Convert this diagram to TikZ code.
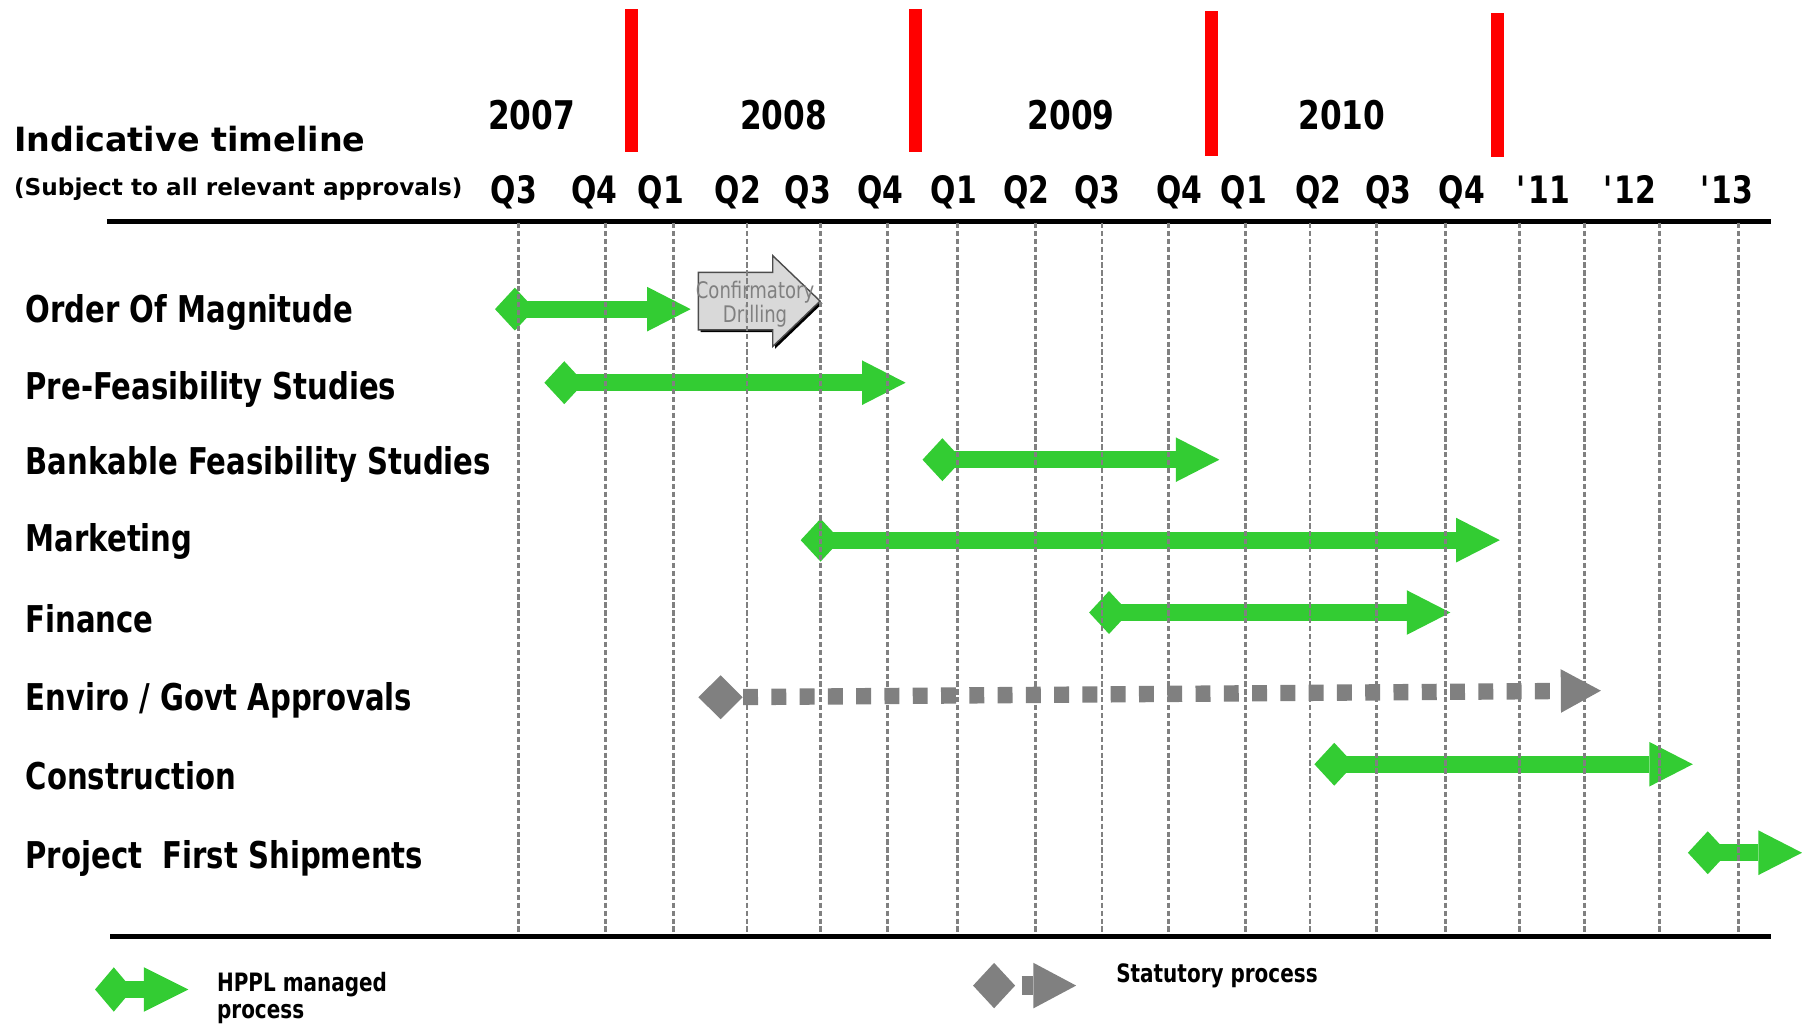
\documentclass[tikz,border=0pt]{standalone}
\usepackage{fontspec}
\setmainfont{DejaVu Sans}[FakeStretch=0.79]
\newfontfamily\plainsans{DejaVu Sans}
\usetikzlibrary{arrows.meta,shapes.geometric}

\definecolor{hpplgreen}{RGB}{51,204,51}
\definecolor{statgray}{RGB}{128,128,128}
\definecolor{boxgray}{RGB}{217,217,217}

\tikzset{
  rowlbl/.style={anchor=base west,inner sep=0pt,font=\bfseries\fontsize{21}{24}\selectfont},
  qtrlbl/.style={anchor=base,inner sep=0pt,font=\bfseries\fontsize{21.5}{24}\selectfont},
  yearlbl/.style={anchor=base,inner sep=0pt,font=\bfseries\fontsize{22.5}{26}\selectfont},
  keytxt/.style={anchor=base west,inner sep=0pt,align=left,font=\bfseries\fontsize{14.4}{15}\selectfont},
  milestone/.style={red,line width=7.2pt},
  gridln/.style={statgray,line width=1.5pt,dash pattern=on 3pt off 1.5pt},
  rule/.style={black,line width=2.6pt},
  hppldia/.style={diamond,fill=hpplgreen,inner sep=0pt,minimum width=22.8pt,minimum height=24.6pt},
  statdia/.style={diamond,fill=statgray,inner sep=0pt,minimum width=25.4pt,minimum height=25.2pt},
  hpplbar/.style={hpplgreen,line width=9.8pt,-{Triangle[length=24.8pt,width=25.4pt,line width=0pt]}},
  statbar/.style={statgray,line width=9.3pt,dash pattern=on 8.5pt off 7.6pt,
    -{Triangle[length=22.8pt,width=24.8pt,line width=0pt]}},
}

\begin{document}
\begin{tikzpicture}[x=0.023cm,y=-0.023cm]
\useasboundingbox (0,0) rectangle (1568,891);

% heading
\node[anchor=base west,inner sep=0pt,font=\plainsans\bfseries\fontsize{19}{22}\selectfont] (title) at (12,132) {Indicative timeline};
\node[anchor=base west,inner sep=0pt,font=\plainsans\bfseries\fontsize{13.2}{16}\selectfont] (subtitle) at (12,170) {(Subject to all relevant approvals)};

% years and year ends
\foreach \yx/\yt in {462.6/2007,681.8/2008,932/2009,1167.7/2010}
  \node[yearlbl] (y\yt) at (\yx,112.5) {\yt};
\foreach \mx/\mt/\mb in {549.5/8/132.6,796.6/8/132.6,1054/9.9/135.5,1303/11.6/136.9}
  \draw[milestone] (\mx,\mt) -- (\mx,\mb);

% quarters
\foreach \qx/\qt [count=\i] in {447/Q3,517/Q4,575/Q1,642/Q2,703/Q3,766/Q4,830/Q1,893/Q2,955/Q3,1026/Q4,
    1082.5/Q1,1147/Q2,1208/Q3,1272/Q4,1343/\textquotesingle11,1418/\textquotesingle12,1502.5/\textquotesingle13}
  \node[qtrlbl] (q\i) at (\qx,177) {\qt};

\draw[rule] (93,192.5) -- (1541,192.5);
\draw[rule] (96,815) -- (1541,815);

% activities
\foreach \rn/\rt/\rb in {oom/Order Of Magnitude/280.5,pfs/Pre-Feasibility Studies/348,
    bfs/Bankable Feasibility Studies/412.5,mkt/Marketing/480,fin/Finance/550,
    env/{Enviro / Govt Approvals}/618,con/Construction/687,ship/Project~~First Shipments/755.6}
  \node[rowlbl] (\rn-lbl) at (22,\rb) {\rt};

% confirmatory drilling
\fill[black] (609.7,239) -- (674.4,239) -- (674.4,224.5) -- (715.6,264) -- (674.4,303.5) -- (674.4,289) -- (609.7,289) -- cycle;
\draw[fill=boxgray,draw=black!70,line width=0.8pt] (607.7,237) -- (672.4,237) -- (672.4,222.5) -- (713.6,262)
  -- (672.4,301.5) -- (672.4,287) -- (607.7,287) -- cycle;
\node[inner sep=0pt,align=center,text=statgray,font=\fontsize{13}{12}\selectfont] (drill) at (657,265) {Confirmatory\\Drilling};

% bars
\foreach \rn/\dx/\ex/\ry in {oom/448/601/269,pfs/491/788/333,bfs/820/1061/400,mkt/714/1305/470,
    fin/965/1262/533,con/1161/1473/665,ship/1486/1568/742}{
  \node[hppldia] (\rn) at (\dx,\ry) {};
  \coordinate (\rn-end) at (\ex,\ry);
  \draw[hpplbar] (\rn.center) -- (\rn-end);
}
\node[statdia] (env) at (627,606.7) {};
\coordinate (env-end) at (1393,601);
\draw[statbar] (env) -- (env-end);

% quarter grid
\foreach \gx in {451,527,586,650,714,772,833,901,959,1017,1084,1140,1198,1258,1322,1379,1444,1513}
  \draw[gridln] (\gx,194) -- (\gx,813);

% key
\node[hppldia,minimum width=21.5pt,minimum height=25.4pt] (key-hppl) at (99,861) {};
\coordinate (key-hppl-end) at (164,861);
\draw[hpplbar,-{Triangle[length=25.4pt,width=25.4pt,line width=0pt]}] (key-hppl.center) -- (key-hppl-end);
\node[keytxt] (key-hppl-txt) at (188.6,886) {HPPL managed\\process};

\node[statdia,minimum width=24.1pt,minimum height=26pt] (key-stat) at (865,857.6) {};
\coordinate (key-stat-from) at (889,857.6);
\coordinate (key-stat-end) at (936.4,857.6);
\draw[statgray,line width=10.4pt,-{Triangle[length=24.4pt,width=26pt,line width=0pt]}] (key-stat-from) -- (key-stat-end);
\node[keytxt] (key-stat-txt) at (971,855) {Statutory process};
\end{tikzpicture}
\end{document}
